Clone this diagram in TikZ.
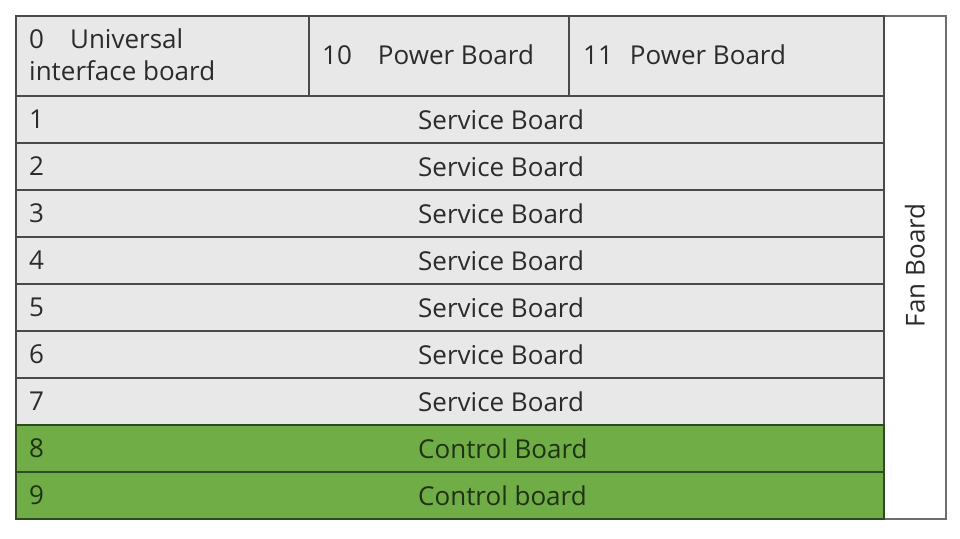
\documentclass[tikz,border=0pt]{standalone}
\usepackage{fontspec}
\setmainfont{Open Sans}
\definecolor{rowgray}{HTML}{E8E8E8}
\definecolor{linegray}{HTML}{4A4A4A}
\definecolor{ctlgreen}{HTML}{70AD47}
\definecolor{ctlline}{HTML}{2E4A1E}
\definecolor{txt}{HTML}{2B2B2B}
\definecolor{ctltxt}{HTML}{1E3312}
\begin{document}
\begin{tikzpicture}[x=1pt,y=-1pt,
  cell/.style={draw=linegray,line width=1.6pt,fill=rowgray,inner sep=0pt,anchor=north west},
  gcell/.style={draw=ctlline,line width=1.6pt,fill=ctlgreen,inner sep=0pt,anchor=north west},
  lbl/.style={font=\fontsize{26}{28}\selectfont,text=txt,inner sep=0pt,anchor=west},
  glbl/.style={font=\fontsize{26}{28}\selectfont,text=ctltxt,inner sep=0pt,anchor=west}]
\useasboundingbox (0,0) rectangle (960,538);
% fan board
\node[draw=linegray!80,line width=1.6pt,fill=white,inner sep=0pt,anchor=north west,minimum width=62pt,minimum height=503pt] (fan) at (883,15) {};
\node[lbl,anchor=center,rotate=90] (fant) at ([yshift=2pt]fan.center) {Fan Board};
% top row
\node[cell,minimum width=293pt,minimum height=80pt] (c0) at (15,15) {};
\node[cell,minimum width=260pt,minimum height=80pt] (c10) at (308,15) {};
\node[cell,minimum width=315pt,minimum height=80pt] (c11) at (568,15) {};
\node[lbl,align=left,anchor=north west,font=\fontsize{26}{32}\selectfont] (t0) at (29,29) {0\hspace{26pt}Universal\\interface board};
\node[lbl] (t10) at (322,55) {10\hspace{26pt}Power Board};
\node[lbl] (t11) at (583,55) {11\hspace{17pt}Power Board};
% service rows
\foreach \i in {1,...,7}{
  \node[cell,minimum width=868pt,minimum height=47pt] (r\i) at (15,{95+47*(\i-1)}) {};
  \node[lbl] (n\i) at ([xshift=14pt]r\i.west) {\i};
  \node[lbl] (s\i) at ([xshift=403pt]r\i.west) {Service Board};
}
% control rows
\node[gcell,minimum width=868pt,minimum height=47pt] (r8) at (15,424) {};
\node[glbl] (n8) at ([xshift=14pt]r8.west) {8};
\node[glbl] (s8) at ([xshift=403pt]r8.west) {Control Board};
\node[gcell,minimum width=868pt,minimum height=47pt] (r9) at (15,471) {};
\node[glbl] (n9) at ([xshift=14pt]r9.west) {9};
\node[glbl] (s9) at ([xshift=403pt]r9.west) {Control board};
\end{tikzpicture}
\end{document}
